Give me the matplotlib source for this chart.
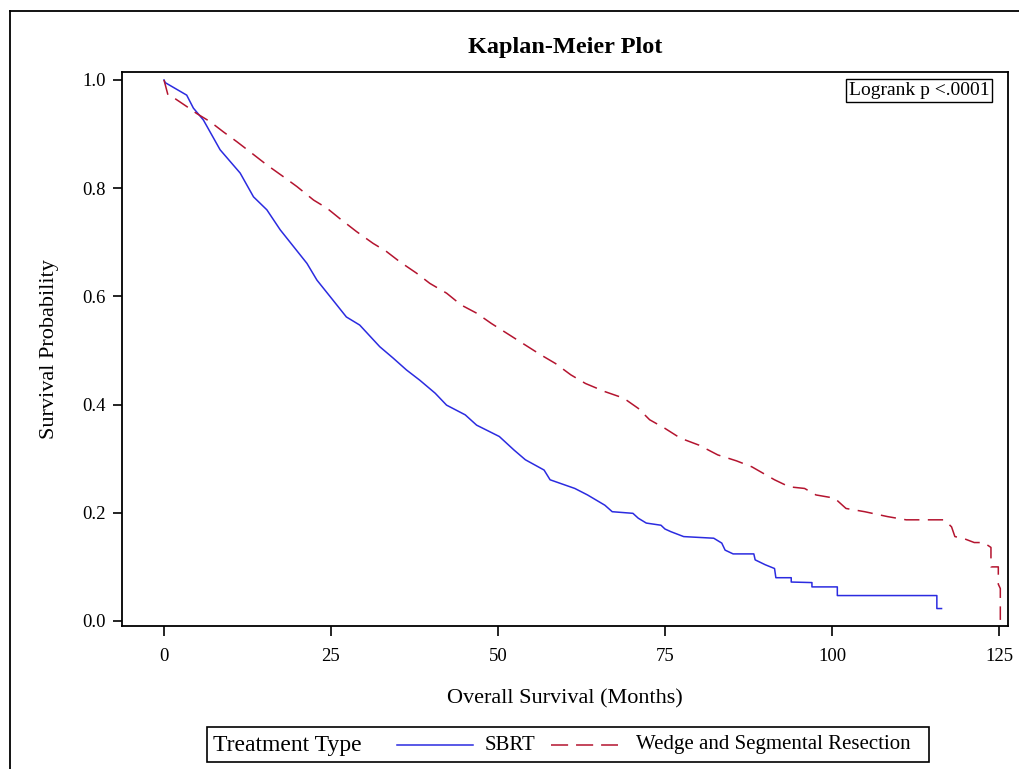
import matplotlib
matplotlib.use('Agg')
import matplotlib.pyplot as plt
from matplotlib.lines import Line2D
from matplotlib.patches import Rectangle

plt.rcParams['font.family'] = 'Liberation Serif'

# Kaplan-Meier estimates (months, survival)
sbrt_t = [0, 0.2, 3.4, 4.4, 5.9, 8.4, 11.4, 13.4, 15.4, 17.4, 19.4, 21.4, 22.9, 25.3,
          27.3, 29.3, 32.3, 34.3, 36.3, 38.3, 40.6, 42.3, 45.1, 46.8, 50.2, 52.4, 54.1,
          56.9, 57.8, 61.5, 63.4, 66.0, 67.1, 70.2, 71.0, 72.2, 74.4, 75.0, 75.9, 77.8,
          82.3, 83.5, 84.0, 85.2, 88.3, 88.5, 90.0, 91.4, 91.6, 93.9, 93.9, 97.0, 97.0,
          100.8, 100.8, 115.7, 115.7, 116.4]
sbrt_s = [1.0, 0.995, 0.972, 0.948, 0.926, 0.871, 0.828, 0.784, 0.760, 0.723, 0.692, 0.661,
          0.630, 0.593, 0.562, 0.547, 0.507, 0.486, 0.464, 0.445, 0.421, 0.399, 0.381, 0.362,
          0.341, 0.316, 0.298, 0.279, 0.261, 0.245, 0.233, 0.214, 0.202, 0.199, 0.190, 0.181,
          0.177, 0.170, 0.165, 0.156, 0.153, 0.144, 0.131, 0.124, 0.124, 0.113, 0.104, 0.097,
          0.080, 0.080, 0.072, 0.071, 0.063, 0.063, 0.047, 0.047, 0.023, 0.023]

wedge_t = [0, 0.6, 1.6, 3.4, 4.9, 6.9, 8.9, 10.9, 12.9, 15.4, 17.9, 19.9, 22.4, 24.4, 26.3,
           28.8, 31.3, 33.3, 35.3, 37.8, 39.8, 42.3, 44.5, 46.8, 49.0, 51.3, 54.1, 56.4,
           58.6, 60.9, 63.1, 66.0, 68.8, 71.0, 72.7, 75.0, 77.3, 80.1, 82.9, 85.7, 88.0,
           89.7, 91.4, 93.6, 95.9, 97.6, 100.4, 102.1, 104.9, 108.3, 111.1, 116.8, 117.9,
           118.4, 119.6, 121.3, 122.7, 123.8, 123.8, 124.9, 124.9, 125.2, 125.2]
wedge_s = [1.0, 0.972, 0.966, 0.951, 0.938, 0.923, 0.904, 0.886, 0.867, 0.843, 0.821, 0.803,
           0.778, 0.763, 0.744, 0.720, 0.698, 0.683, 0.664, 0.643, 0.624, 0.606, 0.584, 0.569,
           0.550, 0.532, 0.510, 0.492, 0.476, 0.455, 0.439, 0.424, 0.412, 0.393, 0.372, 0.356,
           0.338, 0.325, 0.307, 0.296, 0.285, 0.273, 0.261, 0.248, 0.245, 0.233, 0.227, 0.208,
           0.202, 0.193, 0.187, 0.187, 0.174, 0.156, 0.153, 0.145, 0.145, 0.136, 0.100, 0.100,
           0.068, 0.060, 0.002]

x_ticks = [0, 25, 50, 75, 100, 125]
y_ticks = [0.0, 0.2, 0.4, 0.6, 0.8, 1.0]

blue = '#2B2BE0'
red = '#B4142F'

fig = plt.figure(figsize=(10.19, 7.69), dpi=100)
ax = fig.add_axes([0.1197, 0.186, 0.8695, 0.7204])

ax.plot(sbrt_t, sbrt_s, color=blue, lw=1.1)
ax.plot(wedge_t, wedge_s, color=red, lw=1.1, dashes=(10, 5.5))

ax.set_xlim(-6.29, 126.35)
ax.set_ylim(-0.0092, 1.0148)
ax.set_xticks(x_ticks)
ax.set_yticks(y_ticks)
ax.set_yticklabels([f'{v:.1f}' for v in y_ticks])
ax.tick_params(axis='x', direction='out', length=7, width=1.2, pad=9, labelsize=13.5)
ax.tick_params(axis='y', direction='out', length=6.5, width=1.2, pad=5, labelsize=13.5)
for sp in ax.spines.values():
    sp.set_linewidth(1.3)

ax.set_xlabel('Overall Survival (Months)', fontsize=16, labelpad=17)
ax.set_ylabel('Survival Probability', fontsize=16, labelpad=17)
ax.set_title('Kaplan-Meier Plot', fontsize=17.5, fontweight='bold', pad=14)

ax.text(0.979, 0.982, 'Logrank p <.0001', transform=ax.transAxes, ha='right', va='top',
        fontsize=14,
        bbox=dict(boxstyle='square,pad=0.15', facecolor='white', edgecolor='black', lw=1.0))

# outer frame (left and top edges only)
fig.add_artist(Line2D([0.0098, 0.0098], [0, 0.9857], transform=fig.transFigure,
                      color='black', lw=1.3))
fig.add_artist(Line2D([0.0098, 1.0], [0.9857, 0.9857], transform=fig.transFigure,
                      color='black', lw=1.3))

# legend strip at the bottom
fig.add_artist(Rectangle((207 / 1019, 1 - 762 / 769), (929 - 207) / 1019, 35 / 769,
                         transform=fig.transFigure, facecolor='white', edgecolor='black',
                         lw=1.2))
ly = 1 - 745 / 769
fig.text(213 / 1019, ly, 'Treatment Type', fontsize=17, va='center', ha='left')
fig.add_artist(Line2D([397 / 1019, 473 / 1019], [ly, ly], transform=fig.transFigure,
                      color=blue, lw=1.1))
fig.text(485 / 1019, ly, 'SBRT', fontsize=15, va='center', ha='left')
fig.add_artist(Line2D([551 / 1019, 618 / 1019], [ly, ly], transform=fig.transFigure,
                      color=red, lw=1.1, dashes=(11.2, 5.2)))
fig.text(636 / 1019, ly, 'Wedge and Segmental Resection', fontsize=15, va='center', ha='left')

fig.savefig('out.png', dpi=100)
